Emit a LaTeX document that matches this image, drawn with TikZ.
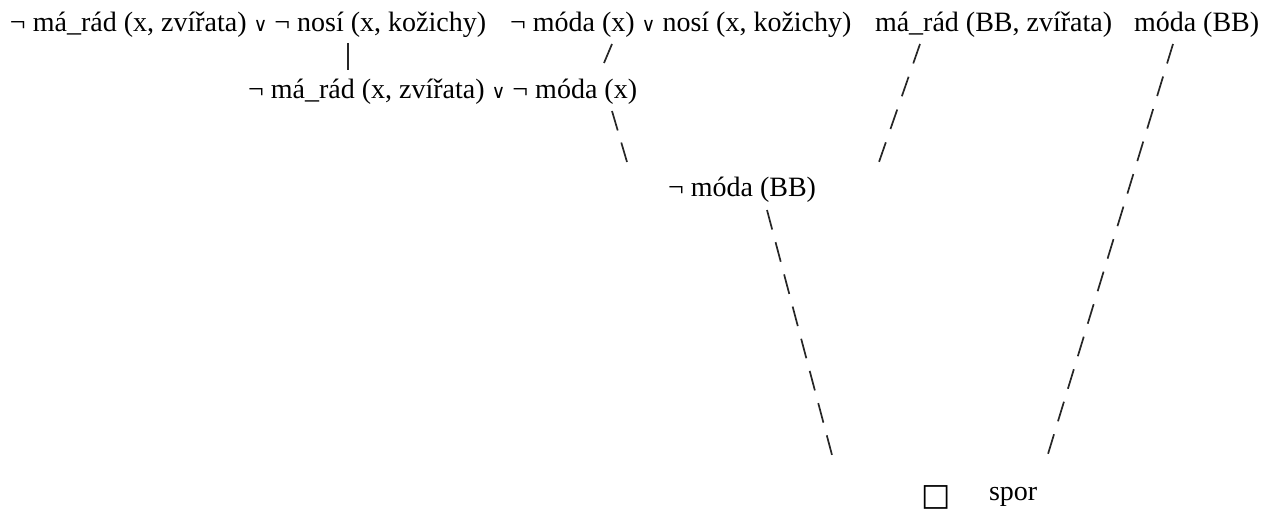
\documentclass[tikz,border=0pt]{standalone}
\usepackage{fontspec}
\setmainfont{Liberation Serif}
\newfontfamily\symfont{DejaVu Sans}
\newfontfamily\veefont{DejaVu Serif}
\newcommand{\smallvee}{{\veefont\fontsize{9.5}{11}\selectfont ∨}}
\begin{document}
\begin{tikzpicture}[x=0.5pt,y=-0.5pt,
  lbl/.style={anchor=base west, inner sep=0pt, outer sep=0pt, font=\fontsize{14}{16}\selectfont},
  slashes/.style={line width=0.85pt, draw=black!85},
  bar/.style={line width=0.6pt, draw=black!85}]
\useasboundingbox (0,0) rectangle (1274,513);
% clauses
\node[lbl] (r0a) at (10,32) {¬ má\_rád (x, zvířata) \smallvee{} ¬ nosí (x, kožichy)};
\node[lbl] (r0b) at (510,32) {¬ móda (x) \smallvee{} nosí (x, kožichy)};
\node[lbl] (r0c) at (875,32) {má\_rád (BB, zvířata)};
\node[lbl] (r0d) at (1134,32) {móda (BB)};
\node[lbl] (r2) at (248,99) {¬ má\_rád (x, zvířata) \smallvee{} ¬ móda (x)};
\node[lbl] (r5) at (668,197) {¬ móda (BB)};
\node[inner sep=0pt, font=\symfont\fontsize{15.5}{18}\selectfont] (box) at (936.5,497) {□};
\node[lbl] (spor) at (989,500) {spor};
% connector ends
\coordinate (a1) at (348,43);  \coordinate (a2) at (348,70);
\coordinate (b1) at (612,44);  \coordinate (b2) at (604,63);
\coordinate (c1) at (612,111); \coordinate (c2) at (627,162);
\coordinate (d1) at (920,44);  \coordinate (d2) at (879,162);
\coordinate (e1) at (1173,44); \coordinate (e2) at (1048,454);
\coordinate (f1) at (767,210); \coordinate (f2) at (832,455);
% connectors
\draw[bar] (a1) -- (a2);
\draw[slashes] (b1) -- (b2);
\draw[slashes, dash pattern=on 10.15pt off 6.3pt] (c1) -- (c2);
\draw[slashes, dash pattern=on 10.3pt off 7.05pt] (d1) -- (d2);
\draw[slashes, dash pattern=on 10.2pt off 6.8pt] (e1) -- (e2);
\draw[slashes, dash pattern=on 10.1pt off 6.55pt] (f1) -- (f2);
\end{tikzpicture}
\end{document}
